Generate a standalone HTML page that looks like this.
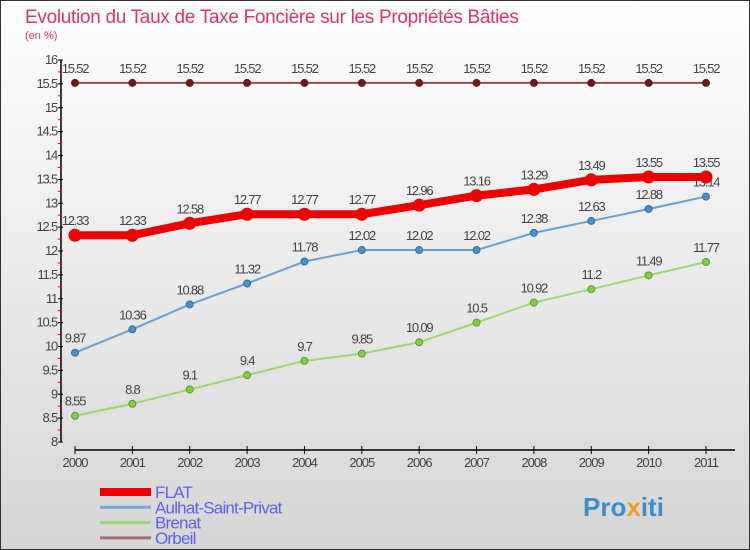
<!DOCTYPE html>
<html><head><meta charset="utf-8"><style>
body{margin:0;}
#c{width:750px;height:550px;position:relative;overflow:hidden;}
text{font-family:"Liberation Sans",sans-serif;}
</style></head><body>
<div id="c">
<svg id="s" width="750" height="550" xmlns="http://www.w3.org/2000/svg">
<defs><linearGradient id="bg" x1="0" y1="0" x2="0" y2="1"><stop offset="0" stop-color="#ffffff"/><stop offset="1" stop-color="#d6d6d6"/></linearGradient></defs>
<rect x="0.5" y="0.5" width="749" height="549" fill="url(#bg)" stroke="#333"/>
<text x="25" y="23" font-size="19" fill="#e0336a" letter-spacing="-0.3">Evolution du Taux de Taxe Foncière sur les Propriétés Bâties</text>
<text x="25" y="39" font-size="11" fill="#e0336a">(en %)</text>
<g id="axes"></g><g id="series"></g><g id="legend"></g>
<text x="583" y="516" font-size="26" font-weight="bold" fill="#3a8fd0">Pro<tspan fill="#f0a020">x</tspan>iti</text>
</svg></div>
<script>
const years=[2000,2001,2002,2003,2004,2005,2006,2007,2008,2009,2010,2011];
const flat=[12.33,12.33,12.58,12.77,12.77,12.77,12.96,13.16,13.29,13.49,13.55,13.55];
const aulhat=[9.87,10.36,10.88,11.32,11.78,12.02,12.02,12.02,12.38,12.63,12.88,13.14];
const brenat=[8.55,8.8,9.1,9.4,9.7,9.85,10.09,10.5,10.92,11.2,11.49,11.77];
const orbeil=[15.52,15.52,15.52,15.52,15.52,15.52,15.52,15.52,15.52,15.52,15.52,15.52];
const yTicks=[8,8.5,9,9.5,10,10.5,11,11.5,12,12.5,13,13.5,14,14.5,15,15.5,16];
const NS="http://www.w3.org/2000/svg";
const xs=i=>75+i*(706-75)/11;
const ys=v=>442-(v-8)*(382/8);
function mk(p,t,a){const e=document.createElementNS(NS,t);for(const k in a)e.setAttribute(k,a[k]);p.appendChild(e);return e;}
const ax=document.getElementById('axes');
let l=mk(ax,'line',{x1:61,y1:60,x2:61,y2:442,stroke:'#000','stroke-width':1.5});


yTicks.forEach(v=>{
  mk(ax,'line',{x1:58,y1:ys(v),x2:63,y2:ys(v),stroke:'#000'});
  if(v<16){mk(ax,'line',{x1:58,y1:ys(v+0.25),x2:62,y2:ys(v+0.25),stroke:'#e00'});}
  const t=mk(ax,'text',{x:57,y:ys(v)+4,'font-size':13,fill:'#444','text-anchor':'end','letter-spacing':'-1.2'});
  t.textContent=String(v);
  
  
});
l=mk(ax,'line',{x1:75,y1:450,x2:735,y2:450,stroke:'#000','stroke-width':1.5});


years.forEach((y,i)=>{
  mk(ax,'line',{x1:xs(i),y1:446,x2:xs(i),y2:454,stroke:'#000'});
  const t=mk(ax,'text',{x:xs(i),y:467,'font-size':13,fill:'#444','text-anchor':'middle','letter-spacing':'-1'});
  t.textContent=y;
  
  
});
const sg=document.getElementById('series');
function series(name,data,color,w,r,dot,dotStroke){
  const g=mk(sg,'g',{});
  
  
  mk(g,'polyline',{points:data.map((v,i)=>xs(i)+','+ys(v)).join(' '),fill:'none',stroke:color,'stroke-width':w,'stroke-linejoin':'round'});
  data.forEach((v,i)=>{
    const c=mk(g,'circle',{cx:xs(i),cy:ys(v),r:r,fill:dot,stroke:dotStroke,'stroke-width':1});
    
    
    const t=mk(g,'text',{x:xs(i),y:ys(v)-10,'font-size':13,fill:'#444','text-anchor':'middle','letter-spacing':'-1.2'});
    t.textContent=String(v);
    
    
  });
}
series('orbeil',orbeil,'#8b5050',2,3.5,'#6b1a1a','#6b1a1a');
series('brenat',brenat,'#9ad870',2,3.5,'#80d040','#5a9a30');
series('aulhat',aulhat,'#6aa0d0',2,3.5,'#4a90d0','#3070a0');
series('flat',flat,'#ee0000',8,6,'#ee0000','#ee0000');
const lg=document.getElementById('legend');
[['FLAT','#ee0000',8],['Aulhat-Saint-Privat','#7aaad0',3],['Brenat','#9ad870',3],['Orbeil','#a07070',3]].forEach((d,i)=>{
  const y=492+i*15.3;
  const g=mk(lg,'g',{});
  
  
  mk(g,'line',{x1:100,y1:y,x2:151,y2:y,stroke:d[1],'stroke-width':d[2]});
  const t=mk(g,'text',{x:155,y:y+6,'font-size':17,fill:'#6060ee','letter-spacing':'-0.8'});
  t.textContent=d[0];
});
</script>
</body></html>
